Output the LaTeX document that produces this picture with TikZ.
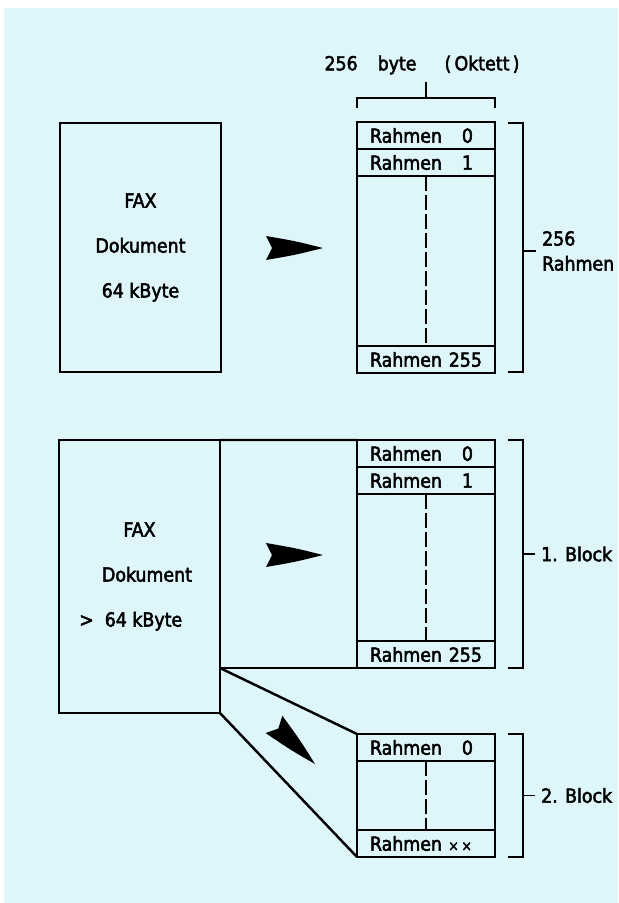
\documentclass[tikz,border=0pt]{standalone}
\usepackage{fontspec}
\setmainfont{DejaVu Sans Condensed}[FakeBold=2.5]
\usetikzlibrary{positioning}
\definecolor{bgcyan}{RGB}{222,246,250}
\tikzset{
  faxarrow/.pic={\fill (0,0) .. controls (-28,-7) .. (-57,-12) -- (-51,0) -- (-57,12) .. controls (-28,7) .. (0,0) -- cycle;}
}
\begin{document}
\begin{tikzpicture}[x=0.2mm,y=-0.2mm,
  font=\fontsize{11}{13}\selectfont,
  docbox/.style={draw, line width=1.4pt, outer sep=0pt, minimum width=32.2mm, align=center, font=\fontsize{11}{25.6}\selectfont},
  stackbox/.style={draw, line width=1.4pt, outer sep=0pt, minimum width=27.6mm},
  rowbox/.style={draw, line width=1.4pt, outer sep=0pt, minimum height=5.4mm, text width=22.4mm, inner xsep=2.6mm, inner ysep=0pt, align=left},
  dashline/.style={line width=1pt, dash pattern=on 3mm off 0.8mm},
  bracket/.style={line width=1.1pt},
  lbl/.style={anchor=west, align=left, font=\fontsize{11}{14.2}\selectfont}]
\useasboundingbox (0,0) rectangle (618,903);
\fill[bgcyan] (4,8) rectangle (618,903);

% oben: Dokument mit 64 kByte
\node[docbox, minimum height=49.8mm] (doc1) at (140.5,247.5) {FAX\\Dokument\\64 kByte};
\pic at (323,248) {faxarrow};
\node[stackbox, minimum height=50.2mm] (st1) at (426,247.5) {};
\node[rowbox, below=0pt of st1.north] (s1r0) {Rahmen\hfill 0\kern1.8mm};
\node[rowbox, below=0pt of s1r0] (s1r1) {Rahmen\hfill 1\kern1.8mm};
\node[rowbox, above=0pt of st1.south] (s1r255) {Rahmen\hfill 255};
\draw[dashline] (s1r1.south) -- (s1r255.north);

\node (bytes) at (422,65) {256\hspace{4mm}byte\hspace{5.6mm}(\,Oktett\,)};
\draw[bracket] (357,108) -- (357,98) -- (495,98) -- (495,108);
\draw[bracket] (426,98) -- (426,82);

\node[lbl] (rahmen) at (536,251) {256\\Rahmen};
\draw[bracket] (508,123) -- (523,123) -- (523,372) -- (508,372);
\draw[bracket] (523,251) -- (rahmen.west);

% unten: Dokument groesser als 64 kByte
\node[docbox, minimum height=54.6mm] (doc2) at (139.5,576.5)
  {FAX\\\hspace*{3mm}Dokument\\\llap{>\hspace{0.6mm}}\hspace*{1.6mm}64 kByte};
\pic at (323,555) {faxarrow};
\node[stackbox, minimum height=45.6mm] (blk1) at (426,554) {};
\node[rowbox, below=0pt of blk1.north] (s2r0) {Rahmen\hfill 0\kern1.8mm};
\node[rowbox, below=0pt of s2r0] (s2r1) {Rahmen\hfill 1\kern1.8mm};
\node[rowbox, above=0pt of blk1.south] (s2r255) {Rahmen\hfill 255};
\draw[dashline] (s2r1.south) -- (s2r255.north);

\coordinate (split) at (doc2.north east |- blk1.south west);
\draw[line width=1.4pt] (doc2.north east) -- (blk1.north west);
\draw[line width=1.4pt] (split) -- (blk1.south west);

\pic[rotate=-44] at (315,764) {faxarrow};
\node[stackbox, minimum height=24.6mm] (blk2) at (426,795.5) {};
\node[rowbox, below=0pt of blk2.north] (s3r0) {Rahmen\hfill 0\kern1.8mm};
\node[rowbox, above=0pt of blk2.south] (s3rxx) {Rahmen\hfill {\fontsize{8}{8}\selectfont ×\kern0.5mm×}\kern2mm};
\draw[dashline] (s3r0.south) -- (s3rxx.north);
\draw[line width=1.4pt] (split) -- (blk2.north west);
\draw[line width=1.4pt] (doc2.south east) -- (blk2.south west);

\node[lbl] (block1) at (535,554) {1. Block};
\draw[bracket] (508,440) -- (523,440) -- (523,668) -- (508,668);
\draw[bracket] (523,554) -- (block1.west);

\node[lbl] (block2) at (535,795.5) {2. Block};
\draw[bracket] (508,734) -- (523,734) -- (523,857) -- (508,857);
\draw[bracket] (523,795.5) -- (block2.west);
\end{tikzpicture}
\end{document}
